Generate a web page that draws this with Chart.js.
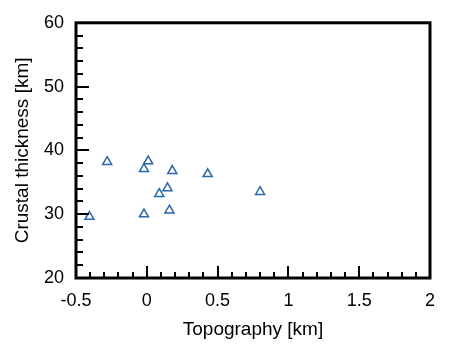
<!DOCTYPE html>
<html>
<head>
<meta charset="utf-8">
<script src="https://cdn.jsdelivr.net/npm/chart.js@4.4.1/dist/chart.umd.min.js"></script>
<style>
html,body{margin:0;padding:0;background:#fff;}
#wrap{width:450px;height:356px;position:relative;}
</style>
</head>
<body>
<div id="wrap"><canvas id="c" width="450" height="356"></canvas></div>
<script>
const topography = [-0.405, -0.28, -0.02, 0.01, -0.02, 0.088, 0.146, 0.18, 0.16, 0.43, 0.80];
const crustalThickness = [29.6, 38.2, 37.1, 38.3, 30.0, 33.2, 34.1, 36.8, 30.6, 36.3, 33.5];
const xMajorTicks = [-0.5, 0, 0.5, 1, 1.5, 2];
const yMajorTicks = [20, 30, 40, 50, 60];
const xMinorStep = 0.1;
const yMinorStep = 2;

const points = topography.map((x, i) => ({x: x, y: crustalThickness[i]}));
const FONT = '"Liberation Sans", Arial, Helvetica, sans-serif';

const framePlugin = {
  id: 'frame',
  afterDraw(chart) {
    const ctx = chart.ctx;
    const a = chart.chartArea;
    const xs = chart.scales.x, ys = chart.scales.y;
    ctx.save();
    ctx.strokeStyle = '#000';
    ctx.lineCap = 'butt';
    ctx.lineWidth = 2;
    const nx = Math.round((xs.max - xs.min) / xMinorStep);
    for (let i = 0; i <= nx; i++) {
      const vv = Math.round((xs.min + i * xMinorStep) * 1000) / 1000;
      const isMajor = xMajorTicks.some(t => Math.abs(t - vv) < 1e-6);
      const px = Math.round(xs.getPixelForValue(vv));
      const len = isMajor ? 12 : 6;
      ctx.beginPath();
      ctx.moveTo(px, a.bottom);
      ctx.lineTo(px, a.bottom - len);
      ctx.stroke();
    }
    const ny = Math.round((ys.max - ys.min) / yMinorStep);
    for (let i = 0; i <= ny; i++) {
      const v = ys.min + i * yMinorStep;
      const isMajor = yMajorTicks.some(t => Math.abs(t - v) < 1e-6);
      const py = Math.round(ys.getPixelForValue(v));
      const len = isMajor ? 13 : 7;
      ctx.beginPath();
      ctx.moveTo(a.left, py);
      ctx.lineTo(a.left + len, py);
      ctx.stroke();
    }
    ctx.lineWidth = 3;
    ctx.strokeRect(a.left, a.top, a.right - a.left, a.bottom - a.top);
    ctx.restore();
  }
};

new Chart(document.getElementById('c'), {
  type: 'scatter',
  data: {
    datasets: [{
      data: points,
      pointStyle: 'triangle',
      pointRadius: 5.2,
      pointHoverRadius: 5.2,
      borderWidth: 1.5,
      borderColor: '#2a66a8',
      backgroundColor: 'rgba(255,255,255,0)'
    }]
  },
  plugins: [framePlugin],
  options: {
    responsive: false,
    animation: false,
    events: [],
    layout: {padding: {top: 21, right: 20, left: 0, bottom: 0}},
    plugins: {legend: {display: false}, tooltip: {enabled: false}},
    scales: {
      x: {
        type: 'linear',
        min: -0.5, max: 2,
        afterBuildTicks(scale) { scale.ticks = xMajorTicks.map(v => ({value: v})); },
        afterFit(scale) { scale.height = 78; },
        grid: {display: false, drawTicks: false},
        border: {display: false},
        ticks: {
          padding: 12,
          color: '#000',
          font: {family: FONT, size: 18},
          maxRotation: 0,
          callback: v => String(v)
        },
        title: {
          display: true,
          text: 'Topography [km]',
          color: '#000',
          font: {family: FONT, size: 19},
          padding: {top: 15, bottom: 15}
        }
      },
      y: {
        type: 'linear',
        min: 20, max: 60,
        afterBuildTicks(scale) { scale.ticks = yMajorTicks.map(v => ({value: v})); },
        afterFit(scale) { scale.width = 76; },
        grid: {display: false, drawTicks: false},
        border: {display: false},
        ticks: {
          padding: 12,
          color: '#000',
          font: {family: FONT, size: 18},
          callback: v => String(v)
        },
        title: {
          display: true,
          text: 'Crustal thickness [km]',
          color: '#000',
          font: {family: FONT, size: 19},
          padding: {top: 11, bottom: 11}
        }
      }
    }
  }
});
</script>
</body>
</html>
